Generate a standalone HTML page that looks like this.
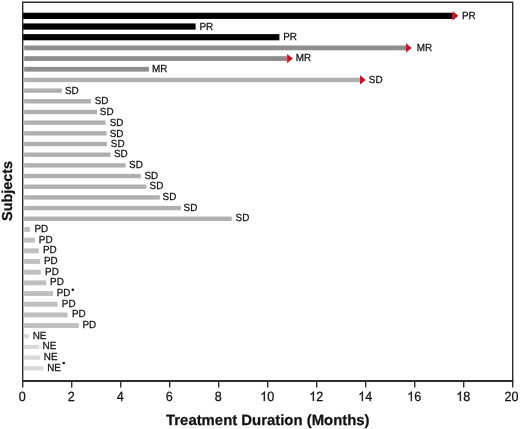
<!DOCTYPE html><html><head><meta charset="utf-8"><style>html,body{margin:0;padding:0;background:#fff;width:520px;height:429px;overflow:hidden}svg{display:block;will-change:transform}text{font-family:"Liberation Sans",sans-serif;text-rendering:geometricPrecision}</style></head><body>
<svg width="520" height="429" viewBox="0 0 520 429">
<rect x="22.7" y="12.75" width="430.00" height="6.2" fill="#000"/>
<polygon points="452.70,11.25 458.50,15.85 452.70,20.45" fill="#d80c20"/>
<text transform="translate(461.90 19.20) scale(0.99 1.03)" font-size="10" fill="#111" stroke="#111" stroke-width="0.25">PR</text>
<rect x="22.7" y="23.43" width="172.90" height="6.2" fill="#000"/>
<text transform="translate(199.40 29.50) scale(0.99 1.03)" font-size="10" fill="#111" stroke="#111" stroke-width="0.25">PR</text>
<rect x="22.7" y="34.11" width="256.70" height="6.2" fill="#000"/>
<text transform="translate(283.20 39.81) scale(0.99 1.03)" font-size="10" fill="#111" stroke="#111" stroke-width="0.25">PR</text>
<rect x="24.2" y="45.49" width="381.80" height="4.8" fill="#8e8e8e"/>
<polygon points="406.00,43.29 411.80,47.89 406.00,52.49" fill="#d80c20"/>
<text transform="translate(416.65 50.89) scale(0.99 1.03)" font-size="10" fill="#111" stroke="#111" stroke-width="0.25">MR</text>
<rect x="24.2" y="56.17" width="262.90" height="4.8" fill="#8e8e8e"/>
<polygon points="287.10,53.97 292.90,58.57 287.10,63.17" fill="#d80c20"/>
<text transform="translate(295.80 61.17) scale(0.99 1.03)" font-size="10" fill="#111" stroke="#111" stroke-width="0.25">MR</text>
<rect x="24.2" y="66.85" width="124.70" height="4.8" fill="#8e8e8e"/>
<text transform="translate(152.10 71.70) scale(0.99 1.03)" font-size="10" fill="#111" stroke="#111" stroke-width="0.25">MR</text>
<rect x="24.2" y="77.73" width="335.80" height="4.4" fill="#b0b0b0"/>
<polygon points="360.00,75.33 365.80,79.93 360.00,84.53" fill="#d80c20"/>
<text transform="translate(368.80 83.08) scale(0.99 1.03)" font-size="10" fill="#111" stroke="#111" stroke-width="0.25">SD</text>
<rect x="24.2" y="88.41" width="37.60" height="4.4" fill="#b0b0b0"/>
<text transform="translate(64.90 93.91) scale(0.99 1.03)" font-size="10" fill="#111" stroke="#111" stroke-width="0.25">SD</text>
<rect x="24.2" y="99.09" width="66.80" height="4.4" fill="#b0b0b0"/>
<text transform="translate(94.70 104.26) scale(0.99 1.03)" font-size="10" fill="#111" stroke="#111" stroke-width="0.25">SD</text>
<rect x="24.2" y="109.77" width="72.90" height="4.4" fill="#b0b0b0"/>
<text transform="translate(99.80 114.77) scale(0.99 1.03)" font-size="10" fill="#111" stroke="#111" stroke-width="0.25">SD</text>
<rect x="24.2" y="120.45" width="81.40" height="4.4" fill="#b0b0b0"/>
<text transform="translate(109.70 125.80) scale(0.99 1.03)" font-size="10" fill="#111" stroke="#111" stroke-width="0.25">SD</text>
<rect x="24.2" y="131.13" width="82.40" height="4.4" fill="#b0b0b0"/>
<text transform="translate(109.70 136.53) scale(0.99 1.03)" font-size="10" fill="#111" stroke="#111" stroke-width="0.25">SD</text>
<rect x="24.2" y="141.81" width="82.70" height="4.4" fill="#b0b0b0"/>
<text transform="translate(110.80 147.01) scale(0.99 1.03)" font-size="10" fill="#111" stroke="#111" stroke-width="0.25">SD</text>
<rect x="24.2" y="152.49" width="86.30" height="4.4" fill="#b0b0b0"/>
<text transform="translate(114.00 157.49) scale(0.99 1.03)" font-size="10" fill="#111" stroke="#111" stroke-width="0.25">SD</text>
<rect x="24.2" y="163.17" width="101.50" height="4.4" fill="#b0b0b0"/>
<text transform="translate(129.10 168.47) scale(0.99 1.03)" font-size="10" fill="#111" stroke="#111" stroke-width="0.25">SD</text>
<rect x="24.2" y="173.85" width="116.60" height="4.4" fill="#b0b0b0"/>
<text transform="translate(144.40 178.75) scale(0.99 1.03)" font-size="10" fill="#111" stroke="#111" stroke-width="0.25">SD</text>
<rect x="24.2" y="184.53" width="122.10" height="4.4" fill="#b0b0b0"/>
<text transform="translate(149.60 189.30) scale(0.99 1.03)" font-size="10" fill="#111" stroke="#111" stroke-width="0.25">SD</text>
<rect x="24.2" y="195.21" width="135.60" height="4.4" fill="#b0b0b0"/>
<text transform="translate(162.60 200.41) scale(0.99 1.03)" font-size="10" fill="#111" stroke="#111" stroke-width="0.25">SD</text>
<rect x="24.2" y="205.89" width="156.70" height="4.4" fill="#b0b0b0"/>
<text transform="translate(183.60 210.79) scale(0.99 1.03)" font-size="10" fill="#111" stroke="#111" stroke-width="0.25">SD</text>
<rect x="24.2" y="216.57" width="207.50" height="4.4" fill="#b0b0b0"/>
<text transform="translate(235.60 221.27) scale(0.99 1.03)" font-size="10" fill="#111" stroke="#111" stroke-width="0.25">SD</text>
<rect x="24.2" y="227.00" width="5.70" height="4.9" fill="#bfbfbf"/>
<text transform="translate(34.40 231.95) scale(0.99 1.03)" font-size="10" fill="#111" stroke="#111" stroke-width="0.25">PD</text>
<rect x="24.2" y="237.68" width="10.60" height="4.9" fill="#bfbfbf"/>
<text transform="translate(38.80 242.50) scale(0.99 1.03)" font-size="10" fill="#111" stroke="#111" stroke-width="0.25">PD</text>
<rect x="24.2" y="248.36" width="14.60" height="4.9" fill="#bfbfbf"/>
<text transform="translate(42.90 253.30) scale(0.99 1.03)" font-size="10" fill="#111" stroke="#111" stroke-width="0.25">PD</text>
<rect x="24.2" y="259.04" width="16.00" height="4.9" fill="#bfbfbf"/>
<text transform="translate(44.00 263.99) scale(0.99 1.03)" font-size="10" fill="#111" stroke="#111" stroke-width="0.25">PD</text>
<rect x="24.2" y="269.72" width="16.60" height="4.9" fill="#bfbfbf"/>
<text transform="translate(45.10 274.57) scale(0.99 1.03)" font-size="10" fill="#111" stroke="#111" stroke-width="0.25">PD</text>
<rect x="24.2" y="280.40" width="22.00" height="4.9" fill="#bfbfbf"/>
<text transform="translate(50.10 284.80) scale(0.99 1.03)" font-size="10" fill="#111" stroke="#111" stroke-width="0.25">PD</text>
<rect x="24.2" y="291.08" width="28.90" height="4.9" fill="#bfbfbf"/>
<text transform="translate(56.70 295.73) scale(0.99 1.03)" font-size="10" fill="#111" stroke="#111" stroke-width="0.25">PD</text>
<circle cx="72.80" cy="289.73" r="1.3" fill="#111"/>
<rect x="24.2" y="301.76" width="33.30" height="4.9" fill="#bfbfbf"/>
<text transform="translate(61.86 306.66) scale(0.99 1.03)" font-size="10" fill="#111" stroke="#111" stroke-width="0.25">PD</text>
<rect x="24.2" y="312.44" width="43.40" height="4.9" fill="#bfbfbf"/>
<text transform="translate(72.00 316.99) scale(0.99 1.03)" font-size="10" fill="#111" stroke="#111" stroke-width="0.25">PD</text>
<rect x="24.2" y="323.12" width="54.60" height="4.9" fill="#bfbfbf"/>
<text transform="translate(82.40 327.77) scale(0.99 1.03)" font-size="10" fill="#111" stroke="#111" stroke-width="0.25">PD</text>
<rect x="24.2" y="334.15" width="4.80" height="4.2" fill="#d9d9d9"/>
<text transform="translate(32.70 338.85) scale(0.99 1.03)" font-size="10" fill="#111" stroke="#111" stroke-width="0.25">NE</text>
<rect x="24.2" y="344.83" width="15.10" height="4.2" fill="#d9d9d9"/>
<text transform="translate(42.60 349.43) scale(0.99 1.03)" font-size="10" fill="#111" stroke="#111" stroke-width="0.25">NE</text>
<rect x="24.2" y="355.51" width="15.90" height="4.2" fill="#d9d9d9"/>
<text transform="translate(43.80 359.81) scale(0.99 1.03)" font-size="10" fill="#111" stroke="#111" stroke-width="0.25">NE</text>
<rect x="24.2" y="366.19" width="19.40" height="4.2" fill="#d9d9d9"/>
<text transform="translate(47.20 370.89) scale(0.99 1.03)" font-size="10" fill="#111" stroke="#111" stroke-width="0.25">NE</text>
<circle cx="63.70" cy="362.99" r="1.3" fill="#111"/>
<path d="M22.7 2.25H512.7V381H22.7Z" fill="none" stroke="#2e2e2e" stroke-width="1.4"/>
<line x1="22.0" y1="381" x2="513.4" y2="381" stroke="#2e2e2e" stroke-width="2"/>
<line x1="22.70" y1="381" x2="22.70" y2="387.5" stroke="#2e2e2e" stroke-width="1.4"/>
<text transform="translate(18.70 401.1) scale(0.94 1)" font-size="13.4" fill="#111" stroke="#111" stroke-width="0.25">0</text>
<line x1="71.70" y1="381" x2="71.70" y2="387.5" stroke="#2e2e2e" stroke-width="1.4"/>
<text transform="translate(67.70 401.1) scale(0.94 1)" font-size="13.4" fill="#111" stroke="#111" stroke-width="0.25">2</text>
<line x1="120.70" y1="381" x2="120.70" y2="387.5" stroke="#2e2e2e" stroke-width="1.4"/>
<text transform="translate(116.70 401.1) scale(0.94 1)" font-size="13.4" fill="#111" stroke="#111" stroke-width="0.25">4</text>
<line x1="169.70" y1="381" x2="169.70" y2="387.5" stroke="#2e2e2e" stroke-width="1.4"/>
<text transform="translate(165.70 401.1) scale(0.94 1)" font-size="13.4" fill="#111" stroke="#111" stroke-width="0.25">6</text>
<line x1="218.70" y1="381" x2="218.70" y2="387.5" stroke="#2e2e2e" stroke-width="1.4"/>
<text transform="translate(214.70 401.1) scale(0.94 1)" font-size="13.4" fill="#111" stroke="#111" stroke-width="0.25">8</text>
<line x1="267.70" y1="381" x2="267.70" y2="387.5" stroke="#2e2e2e" stroke-width="1.4"/>
<path transform="translate(260.20 401.1) scale(0.00615 -0.00654)" d="M763 0L583 0L583 1147Q518 1085 412 1023Q307 961 223 930L223 1104Q374 1175 487 1276Q600 1377 647 1472L763 1472Z" fill="#111" stroke="#111" stroke-width="38.2"/>
<text transform="translate(267.20 401.1) scale(0.94 1)" font-size="13.4" fill="#111" stroke="#111" stroke-width="0.25">0</text>
<line x1="316.70" y1="381" x2="316.70" y2="387.5" stroke="#2e2e2e" stroke-width="1.4"/>
<path transform="translate(309.20 401.1) scale(0.00615 -0.00654)" d="M763 0L583 0L583 1147Q518 1085 412 1023Q307 961 223 930L223 1104Q374 1175 487 1276Q600 1377 647 1472L763 1472Z" fill="#111" stroke="#111" stroke-width="38.2"/>
<text transform="translate(316.20 401.1) scale(0.94 1)" font-size="13.4" fill="#111" stroke="#111" stroke-width="0.25">2</text>
<line x1="365.70" y1="381" x2="365.70" y2="387.5" stroke="#2e2e2e" stroke-width="1.4"/>
<path transform="translate(358.20 401.1) scale(0.00615 -0.00654)" d="M763 0L583 0L583 1147Q518 1085 412 1023Q307 961 223 930L223 1104Q374 1175 487 1276Q600 1377 647 1472L763 1472Z" fill="#111" stroke="#111" stroke-width="38.2"/>
<text transform="translate(365.20 401.1) scale(0.94 1)" font-size="13.4" fill="#111" stroke="#111" stroke-width="0.25">4</text>
<line x1="414.70" y1="381" x2="414.70" y2="387.5" stroke="#2e2e2e" stroke-width="1.4"/>
<path transform="translate(407.20 401.1) scale(0.00615 -0.00654)" d="M763 0L583 0L583 1147Q518 1085 412 1023Q307 961 223 930L223 1104Q374 1175 487 1276Q600 1377 647 1472L763 1472Z" fill="#111" stroke="#111" stroke-width="38.2"/>
<text transform="translate(414.20 401.1) scale(0.94 1)" font-size="13.4" fill="#111" stroke="#111" stroke-width="0.25">6</text>
<line x1="463.70" y1="381" x2="463.70" y2="387.5" stroke="#2e2e2e" stroke-width="1.4"/>
<path transform="translate(456.20 401.1) scale(0.00615 -0.00654)" d="M763 0L583 0L583 1147Q518 1085 412 1023Q307 961 223 930L223 1104Q374 1175 487 1276Q600 1377 647 1472L763 1472Z" fill="#111" stroke="#111" stroke-width="38.2"/>
<text transform="translate(463.20 401.1) scale(0.94 1)" font-size="13.4" fill="#111" stroke="#111" stroke-width="0.25">8</text>
<line x1="512.70" y1="381" x2="512.70" y2="387.5" stroke="#2e2e2e" stroke-width="1.4"/>
<text transform="translate(504.50 401.1) scale(0.94 1)" font-size="13.4" fill="#111" stroke="#111" stroke-width="0.25">2</text>
<text transform="translate(511.50 401.1) scale(0.94 1)" font-size="13.4" fill="#111" stroke="#111" stroke-width="0.25">0</text>
<text x="267.8" y="424.6" font-size="14.9" font-weight="bold" text-anchor="middle" fill="#111" stroke="#111" stroke-width="0.25">Treatment Duration (Months)</text>
<text transform="translate(12.0 190.9) rotate(-90)" x="0" y="0" font-size="14.4" font-weight="bold" text-anchor="middle" fill="#111" stroke="#111" stroke-width="0.25">Subjects</text>
</svg></body></html>
